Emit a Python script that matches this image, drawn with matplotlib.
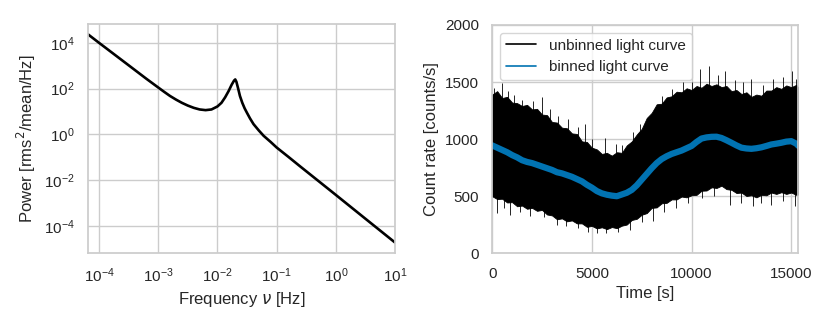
import matplotlib
matplotlib.use("Agg")
import matplotlib.pyplot as plt
import seaborn as sns
from matplotlib.lines import Line2D

sns.set_theme(style="whitegrid", context="notebook")
plt.rcParams['font.family'] = ['Liberation Sans', 'DejaVu Sans']
plt.rcParams['mathtext.fontset'] = 'dejavusans'

# power spectrum
freq = [6.52e-5, 1.0e-4, 3.16e-4, 6.31e-4, 1.0e-3, 1.26e-3, 1.58e-3, 2.0e-3, 2.51e-3,
        3.16e-3, 3.98e-3, 5.01e-3, 6.31e-3, 7.94e-3, 1.0e-2, 1.17e-2, 1.35e-2, 1.55e-2,
        1.74e-2, 1.91e-2, 2.0e-2, 2.09e-2, 2.24e-2, 2.40e-2, 2.63e-2, 2.88e-2, 3.16e-2,
        3.55e-2, 4.07e-2, 5.01e-2, 6.03e-2, 7.94e-2, 0.1, 0.158, 0.251, 0.501, 1.0,
        3.16, 10.0]
power = [2.34e4, 1.0e4, 1047, 269, 112, 72.4, 47.9, 33.1, 24.0,
         18.2, 14.5, 12.3, 11.5, 12.3, 16.6, 24.0, 41.7, 79.4,
         148, 224, 251, 200, 100, 47.9, 24.0, 13.8, 8.71,
         5.01, 2.82, 1.48, 0.871, 0.468, 0.269, 0.105, 0.0398, 9.55e-3, 2.29e-3,
         2.09e-4, 1.91e-5]

# light curve: dense envelope of the unbinned curve and the binned curve, every 250 s
time = [0, 250, 500, 750, 1000, 1250, 1500, 1750, 2000, 2250, 2500, 2750, 3000,
        3250, 3500, 3750, 4000, 4250, 4500, 4750, 5000, 5250, 5500, 5750, 6000,
        6250, 6500, 6750, 7000, 7250, 7500, 7750, 8000, 8250, 8500, 8750, 9000,
        9250, 9500, 9750, 10000, 10250, 10500, 10750, 11000, 11250, 11500, 11750,
        12000, 12250, 12500, 12750, 13000, 13250, 13500, 13750, 14000, 14250,
        14500, 14750, 15000, 15250, 15360]
upper = [1390, 1420, 1360, 1370, 1320, 1315, 1290, 1300, 1260, 1265, 1215, 1210, 1150,
         1145, 1100, 1095, 1050, 1045, 980, 975, 925, 910, 870, 880, 855,
         885, 880, 945, 980, 1040, 1090, 1185, 1230, 1305, 1310, 1365, 1375,
         1415, 1410, 1445, 1430, 1465, 1450, 1485, 1465, 1480, 1455, 1465,
         1420, 1430, 1395, 1410, 1370, 1390, 1380, 1425, 1425, 1455,
         1440, 1470, 1455, 1475, 1450]
lower = [500, 475, 478, 445, 448, 412, 418, 390, 398, 372, 380, 340, 332,
         298, 306, 280, 288, 262, 262, 232, 240, 218, 228, 212, 230,
         220, 242, 252, 292, 302, 338, 352, 398, 402, 438, 442, 472,
         472, 497, 490, 508, 512, 548, 550, 578, 572, 592, 562,
         556, 528, 532, 502, 508, 490, 512, 508, 532, 520,
         535, 520, 532, 512, 515]
binned = [945, 925, 905, 885, 860, 840, 815, 800, 790, 775, 760, 745, 730,
          710, 700, 685, 670, 650, 630, 600, 575, 545, 525, 513, 505,
          500, 515, 530, 555, 595, 645, 695, 745, 790, 825, 850, 870,
          885, 900, 920, 940, 975, 1005, 1015, 1020, 1021, 1010, 990,
          968, 945, 925, 918, 915, 920, 928, 940, 953, 960,
          968, 978, 982, 960, 940]

# single spikes sticking out of the envelope
spike_up_t = [100, 470, 800, 1100, 1500, 2050, 2480, 2900, 3300, 3820, 4300, 4650, 5000,
              5660, 6200, 6500, 7083, 7420, 7900, 8500, 9000, 9593, 10000, 10430, 10849,
              11300, 11700, 12200, 12600, 13000, 13600, 14100, 14600, 15034, 15250]
spike_up = [1450, 1487, 1420, 1390, 1340, 1330, 1369, 1260, 1200, 1173, 1110, 1130, 1000,
            1012, 960, 950, 1060, 1130, 1200, 1380, 1440, 1496, 1500, 1613, 1642,
            1560, 1598, 1520, 1500, 1525, 1470, 1530, 1540, 1598, 1530]
spike_dn_t = [219, 600, 900, 1400, 1900, 2600, 3233, 3700, 4300, 4800, 5241, 5700, 6300,
              6900, 7500, 8087, 8600, 9200, 9800, 10500, 11100, 11937, 12500, 13100,
              13500, 14000, 14600, 15200]
spike_dn = [352, 400, 338, 360, 330, 320, 250, 240, 220, 190, 176, 180, 190,
            200, 270, 279, 360, 400, 440, 480, 500, 425, 440, 410,
            440, 425, 460, 410]

blue = '#0173b2'

fig = plt.figure(figsize=(8.3, 3.32), dpi=100)
ax1 = fig.add_axes([0.106, 0.238, 0.370, 0.690])
ax2 = fig.add_axes([0.593, 0.237, 0.369, 0.688])

ax1.loglog(freq, power, color='black', lw=1.9)
ax1.set_xlim(freq[0], freq[-1])
ax1.set_xlabel(r'Frequency $\nu$ [Hz]')
ax1.set_ylabel(r'Power [rms$^2$/mean/Hz]')
ax1.minorticks_off()

ax2.fill_between(time, lower, upper, color='black', lw=0.6)
ax2.vlines(spike_up_t, 700, spike_up, color='black', lw=0.6)
ax2.vlines(spike_dn_t, spike_dn, 700, color='black', lw=0.6)
ax2.plot(time, binned, color=blue, lw=4.5)
ax2.set_xlim(0, 15360)
ax2.set_ylim(0, 2000)
ax2.set_xlabel('Time [s]')
ax2.set_ylabel('Count rate [counts/s]')
handles = [Line2D([], [], color='black', lw=1.2), Line2D([], [], color=blue, lw=1.2)]
ax2.legend(handles, ['unbinned light curve', 'binned light curve'],
           loc='upper left', fontsize=11)

fig.savefig('out.png', dpi=100)
